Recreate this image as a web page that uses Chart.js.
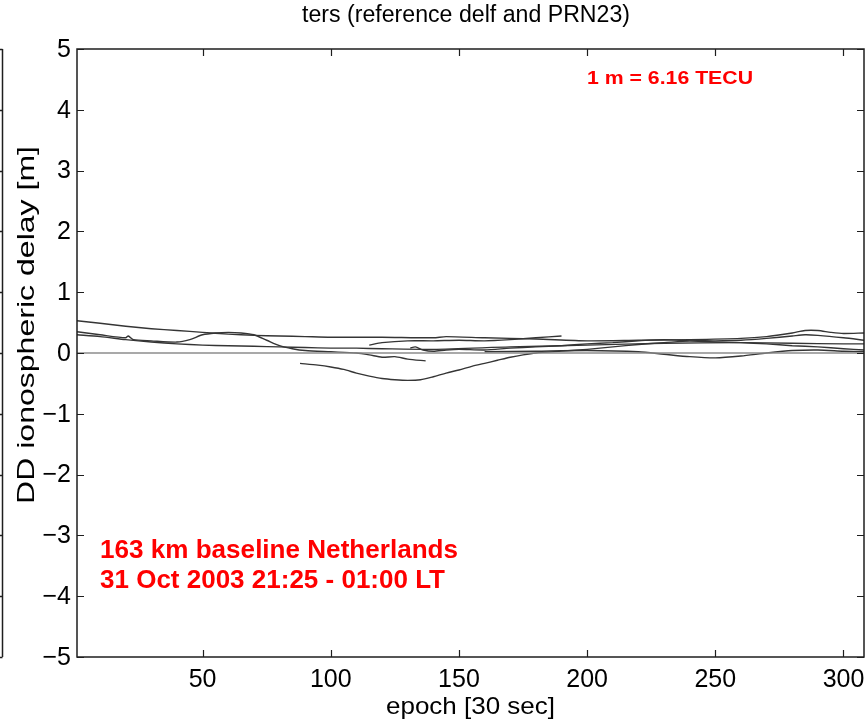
<!DOCTYPE html>
<html>
<head>
<meta charset="utf-8">
<script src="https://cdn.jsdelivr.net/npm/chart.js@4.4.1/dist/chart.umd.min.js"></script>
<style>
  html, body { margin: 0; padding: 0; background: #fff; }
  #wrap { position: relative; width: 865px; height: 721px; }
</style>
</head>
<body>
<div id="wrap"><canvas id="ionoChart" width="865" height="721"></canvas></div>
<script>
// DD ionospheric delay per satellite arc, epochs of 30 s
const arc1Epoch = [1, 10, 20, 30, 40, 50, 60, 70, 80, 90, 100, 120, 140, 145, 160, 180, 200, 220, 240, 260, 270, 280, 285, 290, 295, 300, 308];
const arc1Delay = [0.53, 0.49, 0.44, 0.40, 0.37, 0.34, 0.31, 0.29, 0.28, 0.27, 0.26, 0.26, 0.25, 0.27, 0.25, 0.23, 0.20, 0.21, 0.22, 0.24, 0.27, 0.33, 0.37, 0.37, 0.34, 0.32, 0.33];

const arc2Epoch = [1, 10, 20, 21, 23, 30, 40, 45, 50, 55, 60, 65, 70, 75, 80, 85, 90, 100, 110, 115, 120, 125, 130, 137];
const arc2Delay = [0.35, 0.30, 0.25, 0.28, 0.22, 0.20, 0.18, 0.22, 0.30, 0.33, 0.34, 0.33, 0.30, 0.21, 0.12, 0.07, 0.04, 0.02, 0.00, -0.03, -0.07, -0.06, -0.10, -0.13];

const arc3Epoch = [1, 10, 20, 30, 40, 50, 60, 70, 80, 90, 100, 110, 120, 140, 170, 200, 230, 260, 280, 300, 308];
const arc3Delay = [0.30, 0.27, 0.22, 0.18, 0.15, 0.13, 0.12, 0.11, 0.10, 0.09, 0.08, 0.08, 0.07, 0.06, 0.10, 0.13, 0.16, 0.17, 0.16, 0.15, 0.15];

const arc4Epoch = [88, 95, 100, 105, 110, 115, 120, 125, 130, 135, 140, 145, 150, 155, 160, 165, 170, 175, 180, 190, 200, 210, 220, 230, 240, 250, 260, 270, 280, 285, 290, 300, 308];
const arc4Delay = [-0.17, -0.20, -0.23, -0.27, -0.33, -0.38, -0.42, -0.44, -0.45, -0.44, -0.39, -0.33, -0.28, -0.22, -0.17, -0.12, -0.07, -0.03, 0.00, 0.03, 0.06, 0.10, 0.14, 0.17, 0.20, 0.20, 0.21, 0.24, 0.28, 0.30, 0.29, 0.25, 0.21];

const arc5Epoch = [131, 133, 136, 140, 145, 150, 160, 170, 180, 190, 200, 210, 220, 230, 240, 250, 260, 270, 280, 290, 300, 308];
const arc5Delay = [0.08, 0.10, 0.05, 0.03, 0.05, 0.06, 0.05, 0.08, 0.10, 0.12, 0.15, 0.17, 0.20, 0.22, 0.20, 0.18, 0.17, 0.15, 0.12, 0.10, 0.07, 0.05];

const arc6Epoch = [115, 120, 130, 140, 150, 160, 170, 180, 190];
const arc6Delay = [0.13, 0.17, 0.20, 0.20, 0.21, 0.20, 0.22, 0.25, 0.28];

const arc7Epoch = [160, 180, 200, 220, 230, 240, 250, 260, 270, 280, 290, 300, 308];
const arc7Delay = [0.02, 0.03, 0.04, 0.02, -0.02, -0.06, -0.08, -0.05, 0.00, 0.04, 0.05, 0.03, 0.02];

const xTickValues = [50, 100, 150, 200, 250, 300];
const yTickValues = [-5, -4, -3, -2, -1, 0, 1, 2, 3, 4, 5];
const epochRange = [1, 308];
const delayRange = [-5, 5];

const FONT = '"Liberation Sans", Arial, Helvetica, sans-serif';

function toPoints(xs, ys) {
    return xs.map((x, i) => ({ x: x, y: ys[i] }));
}

const arcs = [
    [arc1Epoch, arc1Delay], [arc2Epoch, arc2Delay], [arc3Epoch, arc3Delay],
    [arc4Epoch, arc4Delay], [arc5Epoch, arc5Delay], [arc6Epoch, arc6Delay],
    [arc7Epoch, arc7Delay]
];

const datasets = arcs.map(([xs, ys], i) => ({
    label: 'arc ' + (i + 1),
    data: toPoints(xs, ys),
    borderColor: '#353535',
    borderWidth: 1.4,
    pointRadius: 0,
    tension: 0.25,
    fill: false
}));

// zero reference line
datasets.unshift({
    label: 'zero',
    data: toPoints(epochRange, [0, 0]),
    borderColor: '#8c8c8c',
    borderWidth: 1.6,
    pointRadius: 0,
    fill: false
});

// text stretched along its run to a given width (old figure fonts are wide)
function wideText(ctx, text, x, y, font, width, align) {
    ctx.font = font;
    const w = ctx.measureText(text).width;
    const sx = width ? width / w : 1;
    ctx.save();
    ctx.translate(x, y);
    ctx.scale(sx, 1);
    ctx.textAlign = align || 'left';
    ctx.fillText(text, 0, 0);
    ctx.restore();
}

// box, inward ticks, tick labels and the annotations
const framePlugin = {
    id: 'frame',
    afterDraw(chart) {
        const ctx = chart.ctx;
        const a = chart.chartArea;
        const xs = chart.scales.x, ys = chart.scales.y;
        ctx.save();
        ctx.strokeStyle = '#1e1e1e';
        ctx.lineWidth = 1.5;
        ctx.strokeRect(a.left, a.top, a.right - a.left, a.bottom - a.top);

        ctx.lineWidth = 1.2;
        ctx.beginPath();
        xTickValues.forEach(v => {
            const px = Math.round(xs.getPixelForValue(v)) + 0.5;
            ctx.moveTo(px, a.bottom); ctx.lineTo(px, a.bottom - 7);
            ctx.moveTo(px, a.top); ctx.lineTo(px, a.top + 7);
        });
        yTickValues.forEach(v => {
            const py = Math.round(ys.getPixelForValue(v)) + 0.5;
            ctx.moveTo(a.left, py); ctx.lineTo(a.left + 7, py);
            ctx.moveTo(a.right, py); ctx.lineTo(a.right - 7, py);
        });
        ctx.stroke();

        // edge of the neighbouring panel
        ctx.lineWidth = 1.5;
        ctx.beginPath();
        ctx.moveTo(2.5, a.top);
        ctx.lineTo(2.5, a.bottom);
        yTickValues.forEach(v => {
            const py = Math.round(ys.getPixelForValue(v)) + 0.5;
            ctx.moveTo(2.5, py); ctx.lineTo(0, py);
        });
        ctx.stroke();

        ctx.fillStyle = '#000';
        ctx.textBaseline = 'middle';
        const tickFont = '25px ' + FONT;
        ctx.font = tickFont;
        ctx.textAlign = 'right';
        yTickValues.forEach(v => {
            ctx.fillText(String(v).replace('-', '\u2212'), 71, ys.getPixelForValue(v) + 1);
        });
        ctx.textAlign = 'center';
        xTickValues.forEach(v => {
            ctx.fillText(String(v), xs.getPixelForValue(v), 680);
        });

        wideText(ctx, 'ters (reference delf and PRN23)', 302, 16, '23px ' + FONT, 328, 'left');
        wideText(ctx, 'epoch [30 sec]', (a.left + a.right) / 2, 707, '24px ' + FONT, 169, 'center');

        ctx.save();
        ctx.translate(27, 325);
        ctx.rotate(-Math.PI / 2);
        wideText(ctx, 'DD ionospheric delay [m]', 0, 0, '24px ' + FONT, 358, 'center');
        ctx.restore();

        ctx.fillStyle = '#ff0000';
        wideText(ctx, '1 m = 6.16 TECU', 587, 79, 'bold 19px ' + FONT, 166, 'left');
        wideText(ctx, '163 km baseline Netherlands', 100, 551, 'bold 25px ' + FONT, 358, 'left');
        wideText(ctx, '31 Oct 2003 21:25 - 01:00 LT', 100, 581, 'bold 25px ' + FONT, 345, 'left');
        ctx.restore();
    }
};

new Chart(document.getElementById('ionoChart'), {
    type: 'line',
    data: { datasets: datasets },
    options: {
        responsive: false,
        animation: false,
        devicePixelRatio: 1,
        layout: { padding: { top: 49, right: 1, left: 0, bottom: 0 } },
        plugins: { legend: { display: false }, tooltip: { enabled: false } },
        scales: {
            x: {
                type: 'linear',
                min: epochRange[0],
                max: epochRange[1],
                grid: { display: false },
                border: { display: false },
                afterBuildTicks: s => { s.ticks = xTickValues.map(v => ({ value: v })); },
                afterFit: s => { s.height = 64; },
                ticks: { display: false }
            },
            y: {
                min: delayRange[0],
                max: delayRange[1],
                grid: { display: false },
                border: { display: false },
                afterBuildTicks: s => { s.ticks = yTickValues.map(v => ({ value: v })); },
                afterFit: s => { s.width = 77; },
                ticks: { display: false }
            }
        }
    },
    plugins: [framePlugin]
});
</script>
</body>
</html>
